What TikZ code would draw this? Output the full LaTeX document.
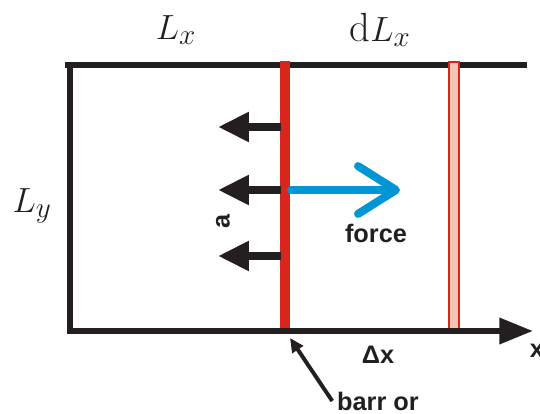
\documentclass[tikz,border=0pt]{standalone}
\usepackage{fontspec}
\setsansfont{Liberation Sans}
\usetikzlibrary{arrows.meta}
\definecolor{ink}{HTML}{231F20}
\definecolor{wallred}{HTML}{D9261C}
\definecolor{wallpink}{HTML}{F7C4B4}
\definecolor{pushblue}{HTML}{0096D6}

\begin{document}
\begin{tikzpicture}[x=0.025cm,y=0.025cm,text=ink,
    lab/.style={font=\fontsize{29}{32}\selectfont},
    tag/.style={font=\sffamily\bfseries\fontsize{18}{20}\selectfont},
    side/.style={ink,line width=4.3pt,line cap=rect},
    pull/.style={ink,line width=5.7pt,-{Triangle[length=22pt,width=20pt]}},
    push/.style={pushblue,line width=5.7pt,line cap=round,
      -{Straight Barb[length=27pt,width=34pt,round]}},
    point/.style={ink,line width=2.8pt,-{Triangle[length=10pt,width=9pt]}}]
  \useasboundingbox (0,0) rectangle (540,414);

  % box with x axis
  \coordinate (topL) at (68,349);
  \coordinate (topR) at (524,349);
  \coordinate (botL) at (70,83);
  \coordinate (xend) at (533,83);
  \draw[side] (topL) -- (topR);
  \draw[side] (70,349) -- (botL);

  % barrier and its displaced position
  \fill[wallred] (280,83) rectangle (290,353);
  \filldraw[fill=wallpink,draw=wallred,line width=1.4pt]
    (449,83) rectangle (459,352);
  \draw[side,line cap=butt,-{Triangle[length=24pt,width=18pt]}]
    (68,83) -- (xend);

  % pressure on the barrier
  \foreach \i/\y in {1/287,2/224,3/158}{
    \coordinate (f\i) at (281,\y);
    \coordinate (t\i) at (218,\y);
    \draw[pull] (f\i) -- (t\i);
  }
  \coordinate (bs) at (291,224);
  \coordinate (be) at (400,224);
  \draw[push] (bs) -- (be);

  \node[lab] (lx) at (176,384) {$L_x$};
  \node[lab] (dlx) at (380,384) {$\mathrm{d}L_x$};
  \node[lab] (ly) at (32,208) {$L_y$};

  \node[tag] (force) at (376,181) {force};
  \node[tag,rotate=90] (sig) at (223,193) {a};
  \node[tag] (dx) at (378,59) {Δx};
  \node[tag] (xl) at (537,63) {x};
  \node[tag] (barr) at (378,13) {barr or};

  \coordinate (tip) at (290,76);
  \draw[point] (barr.west) -- (tip);
\end{tikzpicture}
\end{document}
